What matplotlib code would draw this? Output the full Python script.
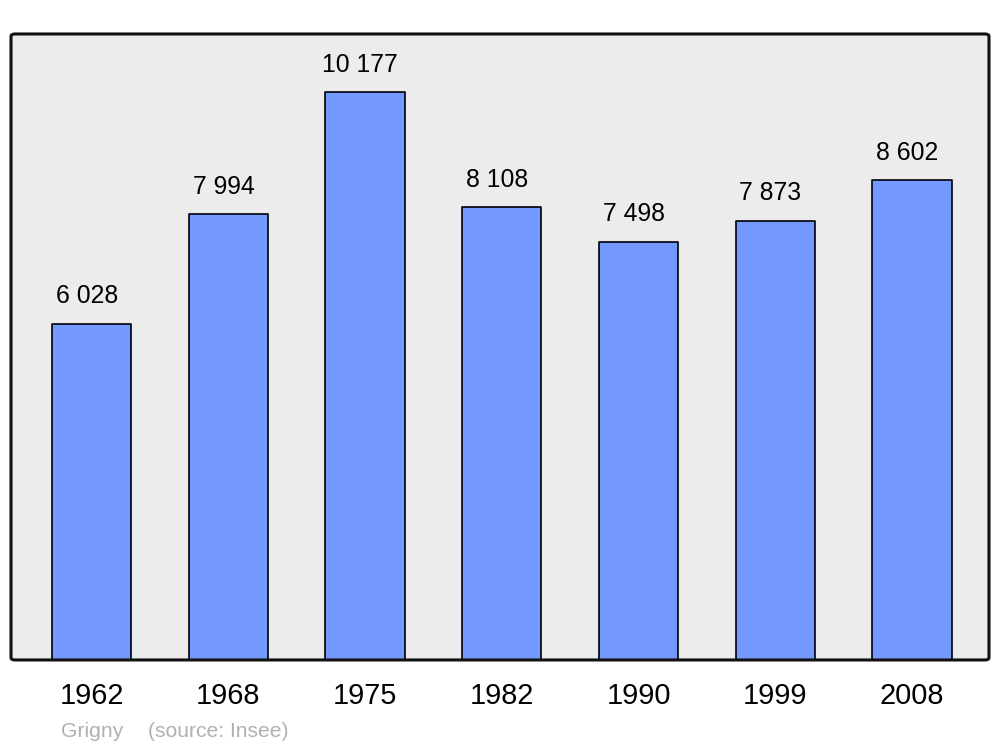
import matplotlib.pyplot as plt
from matplotlib.patches import FancyBboxPatch

plt.rcParams['font.family'] = ['Liberation Sans', 'DejaVu Sans']

# Population data
years = ['1962', '1968', '1975', '1982', '1990', '1999', '2008']
population = [6028, 7994, 10177, 8108, 7498, 7873, 8602]
value_labels = ['6 028', '7 994', '10 177', '8 108', '7 498', '7 873', '8 602']

fig = plt.figure(figsize=(10, 7.47), dpi=100)
ax = fig.add_axes([0.011, 0.1165, 0.978, 0.838])
ax.set_facecolor('#ececec')

x = list(range(len(years)))
bars = ax.bar(x, population, width=0.58, color='#7399ff', edgecolor='black', linewidth=1.2)
for b in bars:
    b.set_joinstyle('round')

for xi, val, lab in zip(x, population, value_labels):
    ax.annotate(lab, (xi, val), xytext=(-3.5, 11), textcoords='offset points',
                ha='center', va='bottom', fontsize=17.8)

ax.set_xlim(-0.589, 6.563)
ax.set_ylim(0, 11217)
ax.set_xticks(x)
ax.set_xticklabels(years, fontsize=20.8)
ax.tick_params(axis='x', length=0, pad=16)
ax.set_yticks([])

for s in ax.spines.values():
    s.set_visible(False)
frame = FancyBboxPatch((0, 0), 1, 1, boxstyle='round,pad=0,rounding_size=0.004',
                       transform=ax.transAxes, fill=False, edgecolor='#111111',
                       linewidth=2.2, clip_on=False, zorder=5)
ax.add_patch(frame)

fig.text(0.061, 0.0205, 'Grigny', color='#b0b0b0', fontsize=15.2, ha='left', va='center')
fig.text(0.148, 0.0205, '(source: Insee)', color='#b0b0b0', fontsize=15.2, ha='left', va='center')

fig.savefig('out.png', dpi=100)
